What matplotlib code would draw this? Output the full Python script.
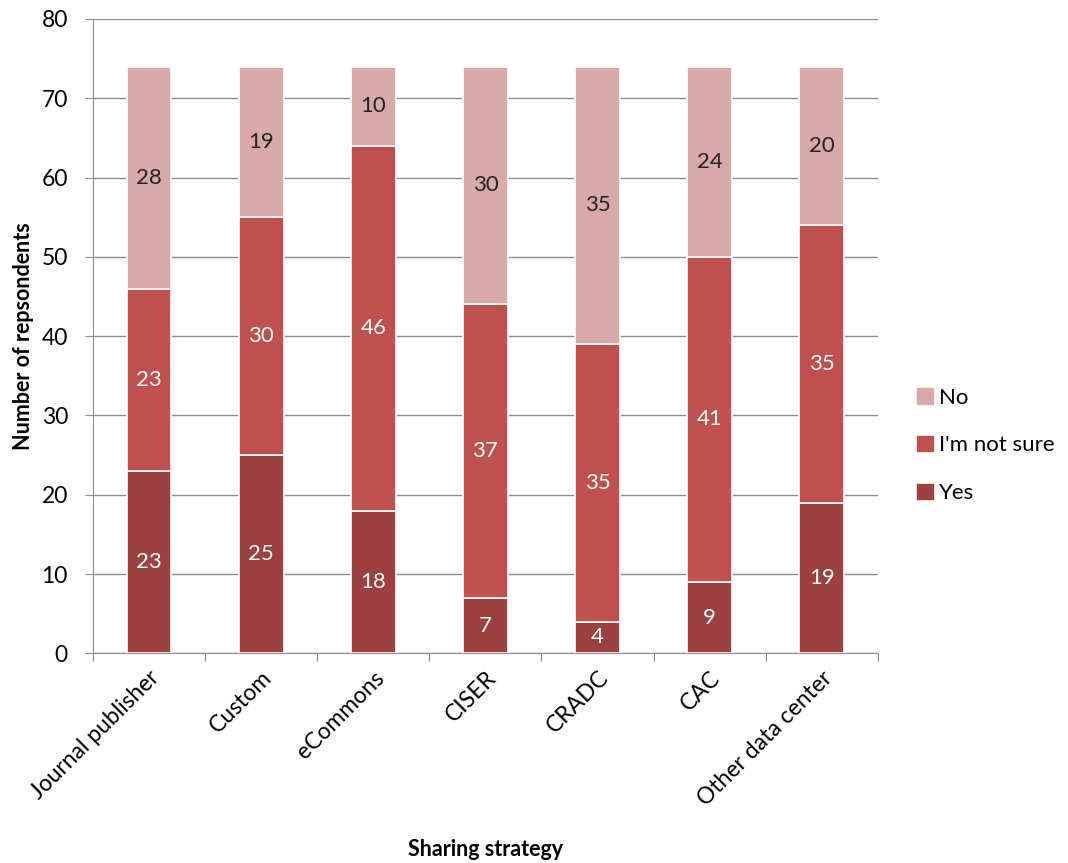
import numpy as np
import matplotlib.pyplot as plt
from matplotlib.patches import Patch

categories = ['Journal publisher', 'Custom', 'eCommons', 'CISER', 'CRADC', 'CAC', 'Other data center']
yes = [23, 25, 18, 7, 4, 9, 19]
not_sure = [23, 30, 46, 37, 35, 41, 35]
no = [28, 19, 10, 30, 35, 24, 20]

plt.rcParams['font.family'] = ['Lato', 'DejaVu Sans']

fig = plt.figure(figsize=(10.68, 8.63), dpi=100)
ax = fig.add_axes([0.087, 0.243, 0.735, 0.735])

x = np.arange(len(categories))
w = 0.4
c_yes, c_ns, c_no = '#9C4140', '#C0504D', '#D9A8A9'

ax.bar(x, yes, w, color=c_yes, edgecolor='white', linewidth=1.2, zorder=3)
ax.bar(x, not_sure, w, bottom=yes, color=c_ns, edgecolor='white', linewidth=1.2, zorder=3)
bottom3 = np.array(yes) + np.array(not_sure)
ax.bar(x, no, w, bottom=bottom3, color=c_no, edgecolor='white', linewidth=1.2, zorder=3)

for i in range(len(categories)):
    ax.text(x[i], yes[i] / 2, str(yes[i]), ha='center', va='center', color='white', fontsize=16, zorder=4)
    ax.text(x[i], yes[i] + not_sure[i] / 2, str(not_sure[i]), ha='center', va='center', color='white', fontsize=16, zorder=4)
    ax.text(x[i], bottom3[i] + no[i] / 2, str(no[i]), ha='center', va='center', color='#222222', fontsize=16, zorder=4)

ax.set_xlim(-0.5, len(categories) - 0.5)
ax.set_ylim(0, 80)
ax.set_yticks(range(0, 81, 10))
ax.yaxis.grid(True, color='#8c8c8c', linewidth=1, zorder=0)
ax.tick_params(axis='y', labelsize=16.5, length=6, color='#8c8c8c', pad=12)

# Excel-style: ticks between categories, labels at centres
ax.set_xticks(np.arange(-0.5, len(categories)), minor=False)
ax.set_xticklabels([])
ax.set_xticks(x, minor=True)
ax.set_xticklabels(categories, minor=True, rotation=45, ha='right', rotation_mode='anchor', fontsize=16.5)
ax.tick_params(axis='x', which='major', length=6, color='#8c8c8c')
ax.tick_params(axis='x', which='minor', length=0, pad=10)

for s in ['top', 'right']:
    ax.spines[s].set_visible(False)
ax.spines['left'].set_color('#8c8c8c')
ax.spines['bottom'].set_color('#8c8c8c')

ax.set_ylabel('Number of repsondents', fontsize=15.5, fontweight='bold', labelpad=5)
fig.text(0.455, 0.003, 'Sharing strategy', ha='center', va='bottom', fontsize=15.5, fontweight='bold')

handles = [Patch(color=c_no, label='No'), Patch(color=c_ns, label="I'm not sure"), Patch(color=c_yes, label='Yes')]
fig.legend(handles=handles, loc='center left', bbox_to_anchor=(0.84, 0.484), frameon=False,
           fontsize=16, handlelength=0.7, handleheight=0.7, handletextpad=0.3, labelspacing=1.25)

fig.savefig('out.png', dpi=100)
